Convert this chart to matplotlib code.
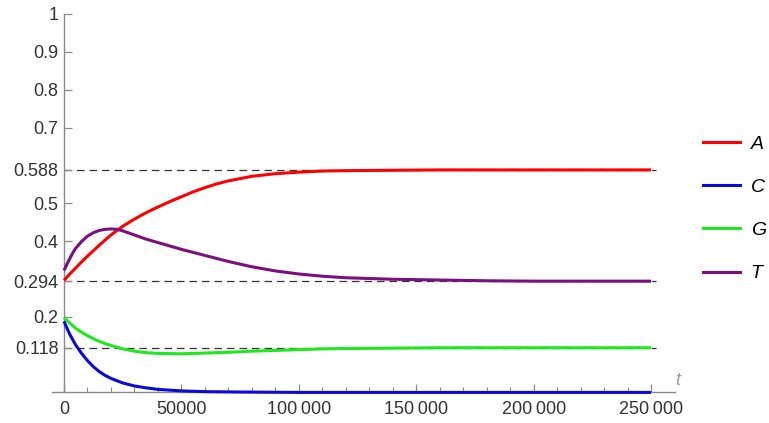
import matplotlib.pyplot as plt
from matplotlib.lines import Line2D

# base fractions A, C, G, T over time
t_a = [0, 2500, 5000, 7500, 10000, 15000, 20000, 25000, 30000, 35000, 40000,
       45000, 50000, 55000, 60000, 65000, 70000, 80000, 90000, 100000,
       110000, 120000, 140000, 160000, 250000]
a_vals = [0.296, 0.313, 0.329, 0.345, 0.360, 0.389, 0.416, 0.439, 0.458, 0.475, 0.490,
          0.504, 0.517, 0.530, 0.541, 0.551, 0.559, 0.571, 0.578, 0.582,
          0.585, 0.586, 0.587, 0.588, 0.588]

t_c = [0, 1250, 2500, 5000, 7500, 10000, 12500, 15000, 17500, 20000, 25000,
       30000, 35000, 40000, 50000, 60000, 75000, 100000, 250000]
c_vals = [0.188, 0.170, 0.153, 0.125, 0.103, 0.084, 0.068, 0.055, 0.045, 0.037, 0.025,
          0.017, 0.012, 0.008, 0.004, 0.002, 0.001, 0.0, 0.0]

t_g = [0, 2500, 5000, 7500, 10000, 12500, 15000, 17500, 20000, 25000, 30000,
       35000, 40000, 50000, 60000, 70000, 80000, 90000, 100000, 110000,
       120000, 140000, 160000, 250000]
g_vals = [0.198, 0.183, 0.169, 0.159, 0.150, 0.142, 0.135, 0.129, 0.124, 0.115, 0.109,
          0.105, 0.103, 0.102, 0.104, 0.106, 0.109, 0.111, 0.113, 0.115,
          0.116, 0.117, 0.118, 0.118]

t_t = [0, 1250, 2500, 3750, 5000, 7500, 10000, 12500, 15000, 17500, 20000, 22500,
       25000, 30000, 35000, 40000, 45000, 50000, 55000, 60000, 70000, 80000,
       90000, 100000, 110000, 120000, 140000, 160000, 180000, 200000, 250000]
t_vals = [0.322, 0.339, 0.354, 0.369, 0.381, 0.399, 0.413, 0.422, 0.428, 0.431, 0.432, 0.431,
          0.427, 0.416, 0.405, 0.396, 0.387, 0.378, 0.370, 0.362, 0.346, 0.332,
          0.321, 0.313, 0.307, 0.303, 0.299, 0.297, 0.295, 0.294, 0.294]

# equilibrium levels
eq_levels = [0.588, 0.294, 0.118]

y_ticks = [1, 0.9, 0.8, 0.7, 0.588, 0.5, 0.4, 0.294, 0.2, 0.118]
y_labels = ["1", "0.9", "0.8", "0.7", "0.588", "0.5", "0.4", "0.294", "0.2", "0.118"]
x_ticks = [0, 50000, 100000, 150000, 200000, 250000]
x_labels = ["0", "50000", "100\u2009000", "150\u2009000", "200\u2009000", "250\u2009000"]
x_minor = [v for v in range(10000, 260000, 10000) if v % 50000]

series = [
    ("A", t_a, a_vals, "#ff0000"),
    ("C", t_c, c_vals, "#0a0ad8"),
    ("G", t_g, g_vals, "#1ee81e"),
    ("T", t_t, t_vals, "#7a0f80"),
]

plt.rcParams['font.family'] = ['Liberation Sans', 'DejaVu Sans']

fig = plt.figure(figsize=(7.69, 4.23), dpi=100)
ax = fig.add_axes([52 / 769, 1 - 394.3 / 423, (675 - 52) / 769, (394.3 - 14) / 423])
ax.set_xlim(-5110, 260200)
ax.set_ylim(-0.005, 1.0)

for level in eq_levels:
    ax.plot([0, 252000], [level, level], color="#333333", lw=0.9,
            dashes=(6, 4), zorder=1)

for name, tt, vv, col in series:
    ax.plot(tt, vv, color=col, lw=2.2, label=name, zorder=3,
            solid_capstyle="butt", solid_joinstyle="round", clip_on=False)

axis_col = "#8a8a8a"
for side in ("top", "right"):
    ax.spines[side].set_visible(False)
ax.spines["left"].set_position(("data", 0))
ax.spines["bottom"].set_position(("data", 0))
ax.spines["left"].set_bounds(0, 1)
for side in ("left", "bottom"):
    ax.spines[side].set_color(axis_col)
    ax.spines[side].set_linewidth(1.0)

ax.set_yticks(y_ticks)
ax.set_yticklabels(y_labels)
ax.set_xticks(x_ticks)
ax.set_xticklabels(x_labels)
ax.set_xticks(x_minor, minor=True)
ax.tick_params(axis="y", direction="in", length=6, width=0.9, color=axis_col,
               labelsize=13, labelcolor="#333333", pad=4)
ax.tick_params(axis="x", which="major", direction="in", length=6, width=0.9,
               color=axis_col, labelsize=13, labelcolor="#333333", pad=6)
ax.tick_params(axis="x", which="minor", direction="in", length=3.5, width=0.8,
               color=axis_col)
ax.patch.set_visible(False)

ax.text(1.0, 0.015, "t", transform=ax.transAxes, style="italic",
        color="#999999", fontsize=13, ha="left", va="bottom")

handles = [Line2D([], [], color=col, lw=2.2) for _, _, _, col in series]
fig.legend(handles, [s[0] for s in series], loc="upper left",
           bbox_to_anchor=(703 / 769, 1 - 135 / 423), frameon=False,
           borderpad=0, borderaxespad=0,
           prop={"style": "italic", "size": 14}, handlelength=1.9,
           handletextpad=0.55, labelspacing=1.32)

fig.savefig("out.png", dpi=100)
